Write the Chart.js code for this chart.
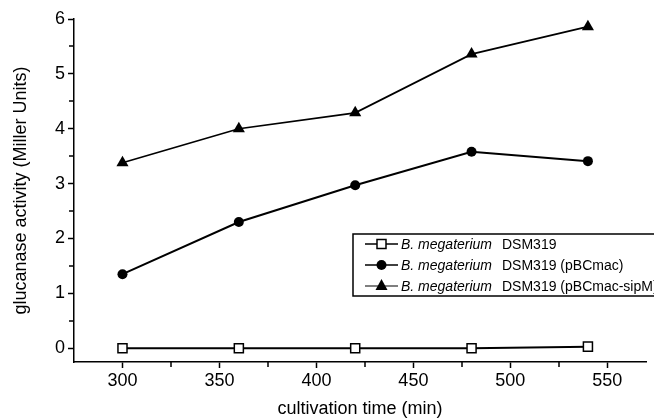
<!DOCTYPE html>
<html>
<head>
<meta charset="utf-8">
<script src="https://cdn.jsdelivr.net/npm/chart.js@4.4.1/dist/chart.umd.min.js"></script>
<style>
  html, body { margin: 0; padding: 0; background: #fff; }
  #wrap { width: 654px; height: 420px; }
</style>
</head>
<body>
<div id="wrap"><canvas id="glucChart" width="654" height="420"></canvas></div>
<script>
// cultivation time (min)
var times = [300, 360, 420, 480, 540];
// glucanase activity (Miller Units)
var dsm319 = [0.0, 0.0, 0.0, 0.0, 0.03];
var pBCmac = [1.35, 2.30, 2.97, 3.58, 3.41];
var pBCmacSipM = [3.38, 4.0, 4.29, 5.36, 5.86];

var seriesNames = ['DSM319', 'DSM319 (pBCmac)', 'DSM319 (pBCmac-sipM)'];
var xMajor = [300, 350, 400, 450, 500, 550];
var xMinor = [325, 375, 425, 475, 525];
var yMajor = [0, 1, 2, 3, 4, 5, 6];
var yMinor = [0.5, 1.5, 2.5, 3.5, 4.5, 5.5];

var FONT = "'Liberation Sans', Arial, Helvetica, sans-serif";

function toPoints(vals) {
    return times.map(function (t, i) { return { x: t, y: vals[i] }; });
}

/* minor ticks for both axes */
var minorTicks = {
    id: 'minorTicks',
    afterDraw: function (chart) {
        var ctx = chart.ctx;
        var xs = chart.scales.x, ys = chart.scales.y;
        ctx.save();
        ctx.strokeStyle = '#000';
        ctx.lineWidth = 1.5;
        ctx.beginPath();
        xMinor.forEach(function (v) {
            var px = Math.round(xs.getPixelForValue(v));
            ctx.moveTo(px, xs.top);
            ctx.lineTo(px, xs.top + 5);
        });
        yMinor.forEach(function (v) {
            var py = Math.round(ys.getPixelForValue(v));
            ctx.moveTo(ys.right, py);
            ctx.lineTo(ys.right - 5, py);
        });
        ctx.stroke();
        ctx.restore();
    }
};

function drawMarker(ctx, style, x, y) {
    ctx.beginPath();
    if (style === 'rect') {
        ctx.rect(x - 4.5, y - 4.5, 9, 9);
        ctx.fillStyle = '#fff';
        ctx.fill();
        ctx.lineWidth = 1.5;
        ctx.stroke();
    } else if (style === 'circle') {
        ctx.arc(x, y, 5, 0, Math.PI * 2);
        ctx.fillStyle = '#000';
        ctx.fill();
    } else {
        ctx.moveTo(x, y - 7);
        ctx.lineTo(x + 6, y + 4);
        ctx.lineTo(x - 6, y + 4);
        ctx.closePath();
        ctx.fillStyle = '#000';
        ctx.fill();
    }
}

/* legend box inside the plot, like the original figure */
var boxLegend = {
    id: 'boxLegend',
    afterDraw: function (chart) {
        var ctx = chart.ctx;
        var left = 353, top = 234, w = 320, h = 62;
        ctx.save();
        ctx.fillStyle = '#fff';
        ctx.fillRect(left, top, w, h);
        ctx.strokeStyle = '#000';
        ctx.lineWidth = 1.5;
        ctx.strokeRect(left, top, w, h);
        chart.data.datasets.forEach(function (ds, i) {
            var y = top + 10 + i * 21;
            ctx.strokeStyle = '#000';
            ctx.lineWidth = i === 2 ? 1.2 : 1.5;
            ctx.beginPath();
            ctx.moveTo(365, y);
            ctx.lineTo(398, y);
            ctx.stroke();
            drawMarker(ctx, ds.pointStyle, 381.5, y);
            ctx.fillStyle = '#000';
            ctx.textBaseline = 'middle';
            ctx.font = 'italic 14px ' + FONT;
            ctx.fillText('B. megaterium', 401, y + 1);
            ctx.font = '14px ' + FONT;
            ctx.fillText(seriesNames[i], 502, y + 1);
        });
        ctx.restore();
    }
};

var ctxGluc = document.getElementById('glucChart');
var glucChart = new Chart(ctxGluc, {
    type: 'line',
    data: {
        datasets: [{
            label: seriesNames[0],
            data: toPoints(dsm319),
            borderColor: '#000',
            borderWidth: 2,
            pointStyle: 'rect',
            pointRadius: 6.4,
            pointBackgroundColor: '#fff',
            pointBorderColor: '#000',
            pointBorderWidth: 1.5,
            tension: 0
        }, {
            label: seriesNames[1],
            data: toPoints(pBCmac),
            borderColor: '#000',
            borderWidth: 2,
            pointStyle: 'circle',
            pointRadius: 5,
            pointBackgroundColor: '#000',
            pointBorderColor: '#000',
            pointBorderWidth: 0,
            tension: 0
        }, {
            label: seriesNames[2],
            data: toPoints(pBCmacSipM),
            borderColor: '#000',
            borderWidth: 1.7,
            pointStyle: 'triangle',
            pointRadius: 7,
            pointBackgroundColor: '#000',
            pointBorderColor: '#000',
            pointBorderWidth: 0,
            tension: 0
        }]
    },
    options: {
        responsive: false,
        animation: false,
        events: [],
        clip: false,
        layout: { padding: { top: 19, right: 0, left: 0, bottom: 0 } },
        plugins: {
            legend: { display: false },
            tooltip: { enabled: false }
        },
        scales: {
            x: {
                type: 'linear',
                min: 275,
                max: 570,
                afterBuildTicks: function (scale) {
                    scale.ticks = xMajor.map(function (v) { return { value: v }; });
                },
                afterFit: function (scale) { scale.height = 58; },
                border: { display: true, color: '#000', width: 1.5 },
                grid: { drawOnChartArea: false, drawTicks: true, tickLength: 6, tickColor: '#000', tickWidth: 1.5 },
                ticks: { color: '#000', font: { family: FONT, size: 18 }, padding: 2, maxRotation: 0 },
                title: {
                    display: true,
                    text: 'cultivation time (min)',
                    color: '#000',
                    font: { family: FONT, size: 18 },
                    padding: { top: 4, bottom: 0 }
                }
            },
            y: {
                type: 'linear',
                min: -0.25,
                max: 6,
                afterBuildTicks: function (scale) {
                    scale.ticks = yMajor.map(function (v) { return { value: v }; });
                },
                afterFit: function (scale) { scale.width = 74; },
                border: { display: true, color: '#000', width: 1.5 },
                grid: { drawOnChartArea: false, drawTicks: true, tickLength: 6, tickColor: '#000', tickWidth: 1.5 },
                ticks: { color: '#000', font: { family: FONT, size: 18 }, padding: 3 },
                title: {
                    display: true,
                    text: 'glucanase activity (Miller Units)',
                    color: '#000',
                    font: { family: FONT, size: 18 },
                    padding: { top: 10, bottom: 4 }
                }
            }
        }
    },
    plugins: [minorTicks, boxLegend]
});
</script>
</body>
</html>
